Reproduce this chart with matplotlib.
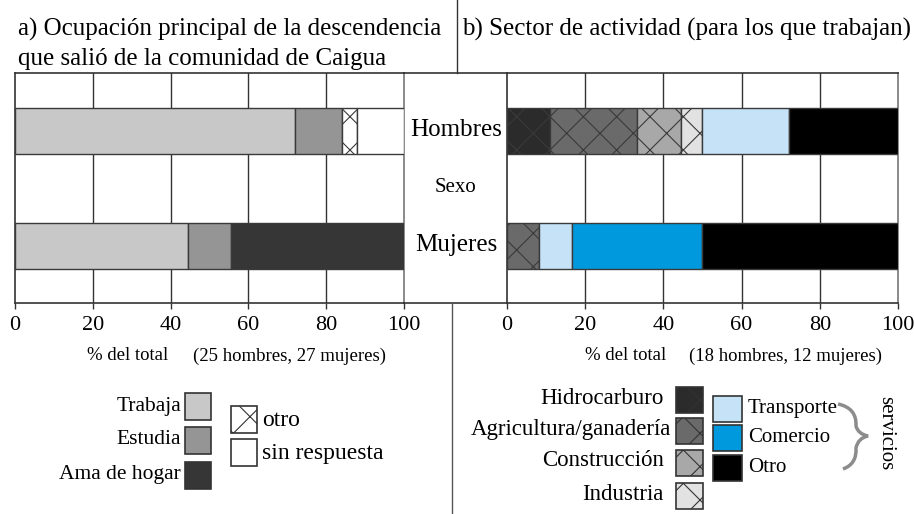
import matplotlib
matplotlib.use("Agg")
import matplotlib.pyplot as plt
from matplotlib.patches import Rectangle, PathPatch
from matplotlib.path import Path
from matplotlib.lines import Line2D
import matplotlib.transforms as mtransforms

SERIF = 'Liberation Serif'
plt.rcParams['font.family'] = 'serif'
plt.rcParams['font.serif'] = [SERIF, 'DejaVu Serif']
plt.rcParams['hatch.color'] = '#1a1a1a'
plt.rcParams['hatch.linewidth'] = 0.8

# ---------------- data ----------------
sexes = ['Hombres', 'Mujeres']
sex_pos = [1, 0]

ocup_cats = ['Trabaja', 'Estudia', 'Ama de hogar', 'otro', 'sin respuesta']
ocup_hombres = [72.0, 12.0, 0.0, 4.0, 12.0]      # 25 hombres
ocup_mujeres = [44.4, 11.1, 44.5, 0.0, 0.0]      # 27 mujeres
ocup_colors = ['#c8c8c8', '#959595', '#363636', 'white', 'white']
ocup_hatch = [None, None, None, 'x', None]

sector_cats = ['Hidrocarburo', 'Agricultura/ganadería', 'Construcción', 'Industria',
               'Transporte', 'Comercio', 'Otro']
sector_hombres = [11.1, 22.2, 11.1, 5.6, 22.2, 0.0, 27.8]   # 18 hombres
sector_mujeres = [0.0, 8.3, 0.0, 0.0, 8.4, 33.3, 50.0]      # 12 mujeres
sector_colors = ['#2b2b2b', '#6a6a6a', '#a8a8a8', '#e2e2e2', '#c6e2f7', '#0099dd', '#000000']
sector_hatch = ['x', 'x', 'x', 'x', None, None, None]

xticks = [0, 20, 40, 60, 80, 100]

W, H = 914, 514
fig = plt.figure(figsize=(W / 100, H / 100), dpi=100)
# pixel transform (origin top-left)
PX = mtransforms.Affine2D().scale(1 / W, -1 / H).translate(0, 1) + fig.transFigure


def ax_rect(x0, x1, y0, y1):
    return [x0 / W, 1 - y1 / H, (x1 - x0) / W, (y1 - y0) / H]


def T(x, y, s, **kw):
    kw.setdefault('family', SERIF)
    return fig.text(x, y, s, transform=PX, **kw)


axL = fig.add_axes(ax_rect(15, 404, 73, 303))
axR = fig.add_axes(ax_rect(507, 898, 73, 303))

edge = '#3a3a3a'


def draw_stack(ax, vals_by_sex, colors, hatches):
    for yy, vals in zip(sex_pos, vals_by_sex):
        left = 0.0
        for c, v in enumerate(vals):
            if v > 0:
                ax.barh(yy, v, left=left, height=0.4, color=colors[c],
                        edgecolor=edge, linewidth=1.0, hatch=hatches[c], zorder=3)
            left += v


draw_stack(axL, [ocup_hombres, ocup_mujeres], ocup_colors, ocup_hatch)
draw_stack(axR, [sector_hombres, sector_mujeres], sector_colors, sector_hatch)

for ax in (axL, axR):
    ax.set_xlim(0, 100)
    ax.set_ylim(-0.5, 1.5)
    ax.set_xticks(xticks)
    ax.set_xticklabels([str(t) for t in xticks], family=SERIF, fontsize=16)
    ax.set_yticks([])
    ax.tick_params(axis='x', direction='out', length=4, width=1, pad=5,
                   color='#333333')
    for xv in xticks[1:-1]:
        ax.axvline(xv, color='#333333', lw=1.0, zorder=1)
    for sp in ['top', 'bottom', 'left']:
        ax.spines[sp].set_color('#333333')
        ax.spines[sp].set_linewidth(1.2)
    ax.spines['right'].set_color('#8a8a8a')
    ax.spines['right'].set_linewidth(1.4)

# middle box top/bottom lines and dividers
for yy in (73, 303):
    fig.add_artist(Line2D([404, 507], [yy, yy], transform=PX, color='#333333', lw=1.2))
fig.add_artist(Line2D([457, 457], [0, 73], transform=PX, color='#333333', lw=1.0))
fig.add_artist(Line2D([452, 452], [303, 514], transform=PX, color='#555555', lw=1.0))

# middle labels
T(456, 130, sexes[0], ha='center', va='center', fontsize=18)
T(456, 187, 'Sexo', ha='center', va='center', fontsize=15)
T(456, 245, sexes[1], ha='center', va='center', fontsize=18)

# titles
T(18, 36, 'a) Ocupación principal de la descendencia', ha='left', va='baseline', fontsize=18)
T(18, 65, 'que salió de la comunidad de Caigua', ha='left', va='baseline', fontsize=18)
T(462, 36, 'b) Sector de actividad (para los que trabajan)', ha='left', va='baseline', fontsize=18)

# axis notes
T(87, 356, '% del total', ha='left', va='center', fontsize=13.5)
T(193, 356, '(25 hombres, 27 mujeres)', ha='left', va='center', fontsize=13.5)
T(585, 356, '% del total', ha='left', va='center', fontsize=13.5)
T(689, 356, '(18 hombres, 12 mujeres)', ha='left', va='center', fontsize=13.5)


def legend_patch(x, y, w, h, color, hatch=None):
    r = Rectangle((x, y), w, h, transform=PX, facecolor=color, edgecolor='#333333',
                  linewidth=1.2, hatch=hatch)
    fig.add_artist(r)


# left legend
left_boxes_y = [393, 427, 462]
for i in range(3):
    y0 = left_boxes_y[i]
    legend_patch(185, y0, 26, 27, ocup_colors[i], ocup_hatch[i])
    T(181, y0 + 13, ocup_cats[i], ha='right', va='center', fontsize=15.5)
right_boxes_y = [406, 439]
for j, i in enumerate([3, 4]):
    y0 = right_boxes_y[j]
    legend_patch(231, y0, 26, 27, ocup_colors[i], ocup_hatch[i])
    T(262, y0 + 14, ocup_cats[i], ha='left', va='center', fontsize=17)

# right legend
sec_left_y = [387, 418, 450, 483]
for i in range(4):
    y0 = sec_left_y[i]
    legend_patch(676, y0, 27, 26, sector_colors[i], sector_hatch[i])
    T(664 if i != 1 else 671, y0 + 11, sector_cats[i], ha='right', va='center', fontsize=16.5)
sec_right_y = [396, 425, 455]
for j, i in enumerate([4, 5, 6]):
    y0 = sec_right_y[j]
    legend_patch(713, y0, 29, 26, sector_colors[i], sector_hatch[i])
    T(748, y0 + 13, sector_cats[i], ha='left', va='center', fontsize=15)

# brace for "servicios"
verts = [(838, 404), (857, 408), (856, 426), (858, 434), (868, 436),
         (858, 438), (856, 448), (857, 464), (843, 469)]
codes = [Path.MOVETO] + [Path.CURVE3] * 8
brace = PathPatch(Path(verts, codes), transform=PX, facecolor='none',
                  edgecolor='#8c8c8c', lw=2.5)
fig.add_artist(brace)
T(886, 433, 'servicios', ha='center', va='center', rotation=270, fontsize=15)

fig.savefig('out.png', dpi=100, facecolor='white')
